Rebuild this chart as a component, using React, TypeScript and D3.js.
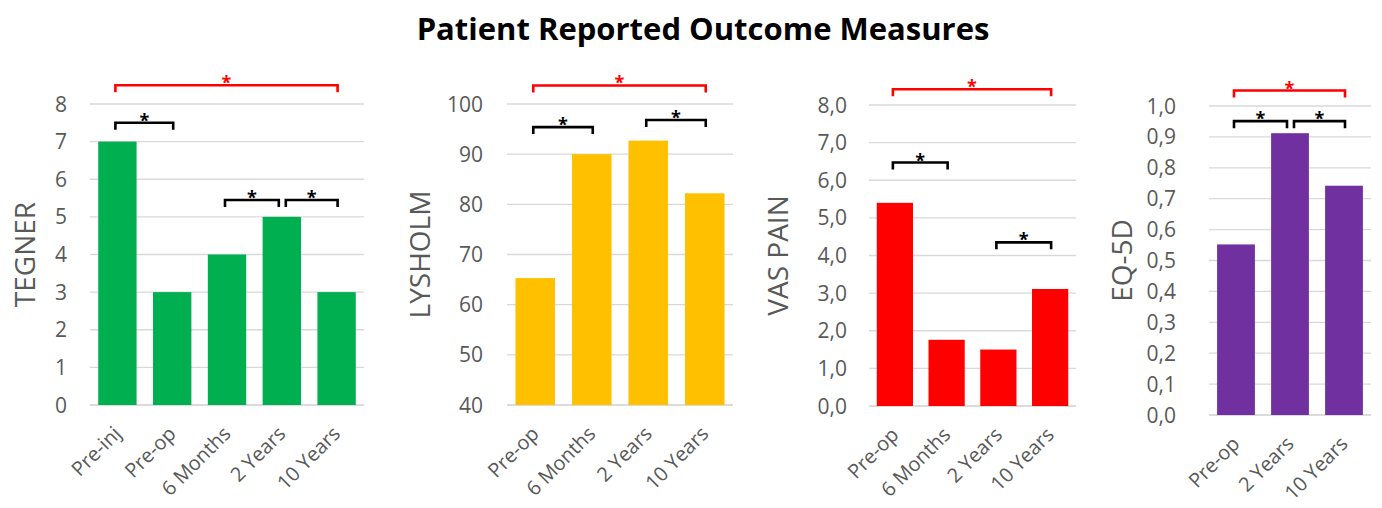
import React from 'react'
import * as d3 from 'd3'

// Values
const tegnerCats = ['Pre-inj', 'Pre-op', '6 Months', '2 Years', '10 Years']
const tegnerValues = [7, 3, 4, 5, 3]
const tegnerTicks = [0, 1, 2, 3, 4, 5, 6, 7, 8]

const lysholmCats = ['Pre-op', '6 Months', '2 Years', '10 Years']
const lysholmValues = [65.3, 90.0, 92.7, 82.2]
const lysholmTicks = [40, 50, 60, 70, 80, 90, 100]

const vasCats = ['Pre-op', '6 Months', '2 Years', '10 Years']
const vasValues = [5.4, 1.76, 1.5, 3.11]
const vasTicks = [0, 1, 2, 3, 4, 5, 6, 7, 8]

const eqCats = ['Pre-op', '2 Years', '10 Years']
const eqValues = [0.552, 0.912, 0.742]
const eqTicks = [0, 0.1, 0.2, 0.3, 0.4, 0.5, 0.6, 0.7, 0.8, 0.9, 1.0]

// significance brackets: [from, to, level (data units), overall?]
type Sig = [number, number, number, boolean]
const tegnerSig: Sig[] = [[0, 4, 8.5, true], [0, 1, 7.5, false], [2, 3, 5.45, false], [3, 4, 5.45, false]]
const lysholmSig: Sig[] = [[0, 3, 103.7, true], [0, 1, 95.4, false], [2, 3, 96.8, false]]
const vasSig: Sig[] = [[0, 3, 8.42, true], [0, 1, 6.47, false], [2, 3, 4.35, false]]
const eqSig: Sig[] = [[0, 2, 1.05, true], [0, 1, 0.951, false], [1, 2, 0.951, false]]

const FONT = '"Open Sans", sans-serif'
const GREY = '#595959'

const comma = (digits: number) => (v: number) => v.toFixed(digits).replace('.', ',')

const panels = [
  { name: 'TEGNER', cats: tegnerCats, values: tegnerValues, ticks: tegnerTicks, fmt: (v: number) => String(v),
    color: '#00B050', sig: tegnerSig, x0: 90, x1: 364, yTop: 104, yBot: 405, titleX: 35, labelX: 67 },
  { name: 'LYSHOLM', cats: lysholmCats, values: lysholmValues, ticks: lysholmTicks, fmt: (v: number) => String(v),
    color: '#FFC000', sig: lysholmSig, x0: 507, x1: 733, yTop: 104, yBot: 405, titleX: 430, labelX: 483 },
  { name: 'VAS PAIN', cats: vasCats, values: vasValues, ticks: vasTicks, fmt: comma(1),
    color: '#FF0000', sig: vasSig, x0: 869, x1: 1076, yTop: 105, yBot: 406, titleX: 788, labelX: 847 },
  { name: 'EQ-5D', cats: eqCats, values: eqValues, ticks: eqTicks, fmt: comma(1),
    color: '#7030A0', sig: eqSig, x0: 1209, x1: 1371, yTop: 106, yBot: 415, titleX: 1132, labelX: 1176 },
]

function Panel({ p }: { p: typeof panels[number] }) {
  const x = d3.scaleBand<string>().domain(p.cats).range([p.x0, p.x1]).paddingInner(0.3).paddingOuter(0.15)
  const y = d3.scaleLinear().domain([p.ticks[0], p.ticks[p.ticks.length - 1]]).range([p.yBot, p.yTop])
  const cx = (i: number) => x(p.cats[i])! + x.bandwidth() / 2
  const yMid = (p.yTop + p.yBot) / 2

  return (
    <g>
      {p.ticks.map(t => (
        <g key={t}>
          <line x1={p.x0} x2={p.x1} y1={y(t)} y2={y(t)} stroke={t === p.ticks[0] ? '#cfcfcf' : '#d9d9d9'} strokeWidth={1.3} />
          <text x={p.labelX} y={y(t)} dy="0.36em" textAnchor="end" fontSize={21} fill={GREY}>{p.fmt(t)}</text>
        </g>
      ))}
      {p.values.map((v, i) => (
        <rect key={i} x={x(p.cats[i])} y={y(v)} width={x.bandwidth()} height={y(p.ticks[0]) - y(v)} fill={p.color} />
      ))}
      {p.cats.map((c, i) => (
        <text key={c} transform={`translate(${cx(i) + 5},${p.yBot + 30}) rotate(-45)`} textAnchor="end" fontSize={20} fill={GREY}>{c}</text>
      ))}
      <text transform={`translate(${p.titleX},${yMid}) rotate(-90)`} textAnchor="middle" fontSize={28} fill={GREY}>{p.name}</text>
      {p.sig.map(([a, b, level, overall], k) => {
        const shared = (idx: number) => p.sig.some((s, j) => j !== k && !s[3] && !overall && s[2] === level && (s[0] === idx || s[1] === idx))
        const xa = cx(a) + (shared(a) ? 4 : -2)
        const xb = cx(b) - (shared(b) ? 3 : -1)
        const ly = y(level)
        const col = overall ? '#FF0000' : '#000000'
        return (
          <g key={k}>
            <path d={`M${xa},${ly + 7}V${ly}H${xb}V${ly + 7}`} fill="none" stroke={col} strokeWidth={2.6} />
            <text x={(xa + xb) / 2} y={ly + 4} textAnchor="middle" fontSize={18} fontWeight="bold" fill={col}>*</text>
          </g>
        )
      })}
    </g>
  )
}

export default function App() {
  return (
    <svg width={1382} height={508} style={{ position: 'absolute', left: 0, top: 0, background: '#fff' }} fontFamily={FONT}>
      <rect width={1382} height={508} fill="#fff" />
      <text x={703} y={40} textAnchor="middle" fontSize={31} fontWeight="bold" fill="#000">Patient Reported Outcome Measures</text>
      {panels.map(p => <Panel key={p.name} p={p} />)}
    </svg>
  )
}
